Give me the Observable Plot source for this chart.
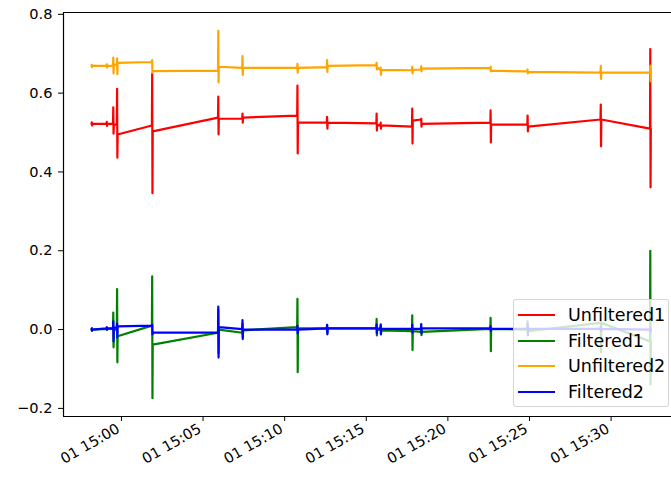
<!DOCTYPE html>
<html>
<head>
<meta charset="utf-8">
<script src="https://cdn.jsdelivr.net/npm/d3@7"></script>
<script src="https://cdn.jsdelivr.net/npm/@observablehq/plot@0.6"></script>
<style>
  html, body { margin: 0; padding: 0; background: #fff; }
  #wrap { position: relative; width: 671px; height: 482px; overflow: hidden; font-family: "DejaVu Sans", sans-serif; }
  #legend { position: absolute; left: 513px; top: 299px; width: 156px; height: 108px;
    background: rgba(255,255,255,0.8); border: 1px solid rgba(204,204,204,0.8); border-radius: 3px; box-sizing: border-box; }
  .row { position: absolute; left: 0; height: 0; }
  .sw { position: absolute; left: 4px; width: 37px; height: 0; border-top: 2.2px solid; top: -1px; }
  .lb { position: absolute; left: 54px; top: -11px; font-size: 17.5px; line-height: 22px; color: #000; white-space: nowrap; }
</style>
</head>
<body>
<div id="wrap"></div>
<script>
// Timestamp of each measurement burst (UTC, day 01)
const clusterTimes = ["14:58:10","14:59:05","14:59:29","14:59:43","15:01:52","15:05:55","15:07:24","15:10:46","15:12:35","15:15:37","15:15:52","15:17:48","15:18:21","15:22:36","15:24:52","15:29:21","15:32:23"];
// Each burst: [value before, spike high, spike low, value after]
const unfiltered1 = [
  [0.522,0.526,0.518,0.522],[0.522,0.527,0.517,0.522],[0.522,0.564,0.497,0.520],[0.520,0.611,0.436,0.495],
  [0.518,0.649,0.346,0.503],[0.538,0.591,0.495,0.535],[0.535,0.548,0.525,0.538],[0.543,0.619,0.447,0.525],
  [0.525,0.540,0.510,0.525],[0.523,0.548,0.505,0.520],[0.518,0.525,0.510,0.518],[0.515,0.561,0.472,0.530],
  [0.533,0.535,0.515,0.522],[0.525,0.556,0.475,0.520],[0.520,0.543,0.503,0.515],[0.533,0.571,0.465,0.533],
  [0.510,0.712,0.361,0.510]];
const filtered1 = [
  [0.000,0.003,-0.003,0.000],[0.002,0.005,-0.001,0.002],[0.002,0.043,-0.045,0.000],[0.000,0.103,-0.083,-0.017],
  [0.010,0.135,-0.174,-0.038],[-0.008,0.050,-0.060,0.000],[-0.008,0.015,-0.020,-0.002],[0.006,0.078,-0.108,0.003],
  [0.003,0.012,-0.010,0.003],[0.003,0.027,-0.015,0.000],[0.000,0.010,-0.012,-0.002],[-0.004,0.036,-0.052,-0.004],
  [-0.006,0.004,-0.014,-0.006],[0.002,0.030,-0.055,0.002],[0.000,0.021,-0.008,-0.004],[0.017,0.020,-0.058,0.017],
  [-0.030,0.200,-0.139,-0.030]];
const unfiltered2 = [
  [0.669,0.672,0.666,0.669],[0.669,0.673,0.665,0.669],[0.669,0.690,0.650,0.672],[0.672,0.688,0.648,0.677],
  [0.679,0.684,0.652,0.656],[0.657,0.758,0.627,0.667],[0.664,0.694,0.646,0.664],[0.664,0.674,0.652,0.664],
  [0.666,0.684,0.654,0.669],[0.671,0.677,0.660,0.665],[0.659,0.665,0.646,0.659],[0.658,0.667,0.650,0.659],
  [0.660,0.668,0.655,0.662],[0.664,0.667,0.655,0.657],[0.655,0.660,0.650,0.654],[0.652,0.669,0.636,0.652],
  [0.652,0.670,0.630,0.652]];
const filtered2 = [
  [0.000,0.003,-0.003,0.000],[0.003,0.006,0.000,0.003],[0.003,0.021,-0.030,0.005],[0.005,0.015,-0.020,0.008],
  [0.010,0.012,-0.012,-0.008],[-0.008,0.058,-0.071,0.006],[0.001,0.024,-0.024,0.000],[0.000,0.010,-0.010,0.000],
  [0.003,0.012,-0.012,0.003],[0.003,0.013,-0.010,0.003],[0.002,0.013,-0.012,0.002],[0.002,0.012,-0.008,0.002],
  [0.002,0.014,-0.010,0.003],[0.003,0.008,-0.004,0.002],[0.002,0.015,-0.015,0.002],[0.002,0.006,-0.004,0.002],
  [0.000,0.005,-0.005,0.000]];
const seriesNames = ["Unfiltered1","Filtered1","Unfiltered2","Filtered2"];
const seriesColors = ["red","green","orange","blue"];
const yTicks = [-0.2, 0.0, 0.2, 0.4, 0.6, 0.8];
const xStart = "14:56:27", xEnd = "15:33:42";
const yMin = -0.2206, yMax = 0.8046;

const toDate = s => new Date("2021-01-01T" + s + "Z");
function rows(bursts) {
  const out = [];
  bursts.forEach((b, i) => {
    const t = toDate(clusterTimes[i]).getTime();
    b.forEach((v, j) => out.push({t: new Date(t + j * 1000), v}));
  });
  return out;
}
const allSeries = [unfiltered1, filtered1, unfiltered2, filtered2].map(rows);
const x0 = toDate(xStart), x1 = toDate(xEnd);

const chart = Plot.plot({
  width: 671, height: 482,
  marginLeft: 63, marginRight: 0, marginTop: 12, marginBottom: 66,
  style: {fontFamily: "DejaVu Sans, sans-serif", fontSize: "14.6px", color: "#000", background: "#fff", overflow: "visible"},
  y: {domain: [yMin, yMax], label: null},
  x: {type: "utc", domain: [x0, x1], label: null},
  marks: [
    ...allSeries.map((data, i) => Plot.line(data, {x: "t", y: "v", stroke: seriesColors[i], strokeWidth: 2.2, clip: true})),
    Plot.axisY({ticks: yTicks, tickFormat: d3.format(".1f"), tickSize: 5, tickPadding: 6, label: null}),
    Plot.axisX({ticks: d3.utcMinute.every(5), tickFormat: d3.utcFormat("%d %H:%M"), tickSize: 5, label: null}),
    Plot.axisX({ticks: d3.utcMinute.every(5), tickFormat: d3.utcFormat("%d %H:%M"), tickSize: 0,
      tickPadding: 11, tickRotate: -30, dx: -3, label: null}),
    Plot.ruleY([yMax], {stroke: "#000", strokeWidth: 1.2}),
    Plot.ruleY([yMin], {stroke: "#000", strokeWidth: 1.2}),
    Plot.ruleX([x0], {stroke: "#000", strokeWidth: 1.2})
  ]
});
// keep only tick marks from the first x axis and labels from the second
const wrap = document.getElementById("wrap");
wrap.appendChild(chart);
const xAxes = chart.querySelectorAll('g[aria-label="x-axis tick label"]');
if (xAxes.length > 1) xAxes[0].remove();

const legend = document.createElement("div");
legend.id = "legend";
const rowTops = [15.3, 40.7, 66, 92];
seriesNames.forEach((name, i) => {
  const r = document.createElement("div");
  r.className = "row";
  r.style.top = rowTops[i] + "px";
  r.innerHTML = `<div class="sw" style="border-color:${seriesColors[i]}"></div><div class="lb">${name}</div>`;
  legend.appendChild(r);
});
wrap.appendChild(legend);
</script>
</body>
</html>
